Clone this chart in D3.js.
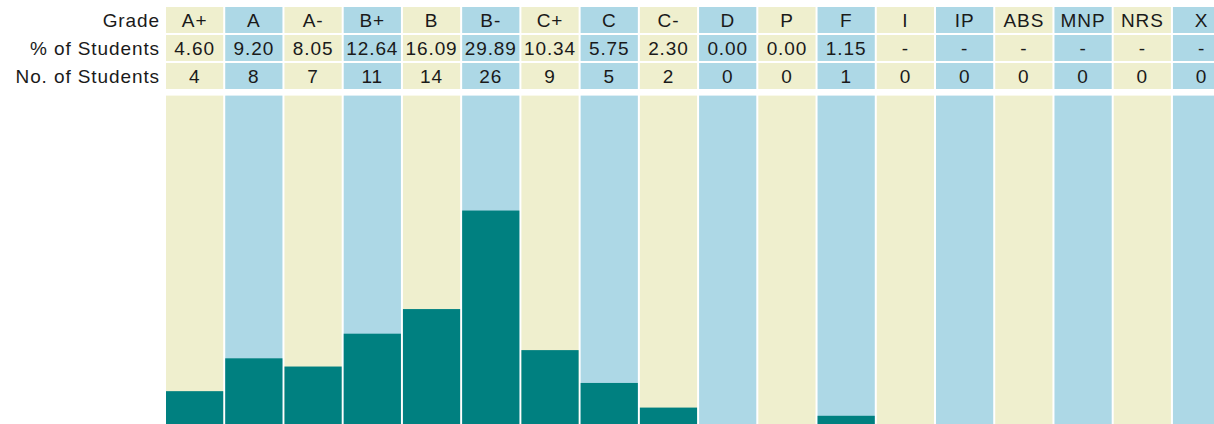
<!DOCTYPE html>
<html>
<head>
<meta charset="utf-8">
<script src="https://cdn.jsdelivr.net/npm/d3@7"></script>
<style>
  html, body { margin: 0; padding: 0; background: #fff; overflow: hidden; }
  text { font-family: "Liberation Sans", Arial, sans-serif; font-size: 19px; fill: #1a1a1a; letter-spacing: 0.9px; }
</style>
</head>
<body>
<div id="chart"></div>
<script>
// grade distribution data
var grades = ['A+', 'A', 'A-', 'B+', 'B', 'B-', 'C+', 'C', 'C-', 'D', 'P', 'F', 'I', 'IP', 'ABS', 'MNP', 'NRS', 'X'];
var percents = ['4.60', '9.20', '8.05', '12.64', '16.09', '29.89', '10.34', '5.75', '2.30', '0.00', '0.00', '1.15', '-', '-', '-', '-', '-', '-'];
var counts = [4, 8, 7, 11, 14, 26, 9, 5, 2, 0, 0, 1, 0, 0, 0, 0, 0, 0];
var rowLabels = ['Grade', '% of Students', 'No. of Students'];

var width = 1214,
    height = 424;

var beige = '#efefce',
    blue = '#add8e6',
    teal = '#008080';

var svg = d3.select('#chart')
            .append('svg')
            .attr('width', width)
            .attr('height', height);

var step = 59.12;
var xScale = d3.scaleBand()
               .domain(grades)
               .range([166, 166 + step * grades.length])
               .paddingInner(2 / step)
               .paddingOuter(0);

// table rows
var rowTop = [7, 35, 63],
    rowH = 26;
var rows = [grades, percents, counts];

rows.forEach(function(vals, r) {
  svg.append('text')
     .attr('x', 160)
     .attr('y', rowTop[r] + 20)
     .attr('text-anchor', 'end')
     .text(rowLabels[r]);

  var g = svg.append('g').attr('class', 'row' + r);
  g.selectAll('rect')
   .data(grades)
   .enter()
   .append('rect')
   .attr('x', function(d) { return xScale(d); })
   .attr('y', rowTop[r])
   .attr('width', xScale.bandwidth())
   .attr('height', rowH)
   .style('fill', function(d, i) { return i % 2 ? blue : beige; });

  g.selectAll('text')
   .data(vals)
   .enter()
   .append('text')
   .attr('x', function(d, i) { return xScale(grades[i]) + xScale.bandwidth() / 2; })
   .attr('y', rowTop[r] + 20)
   .attr('text-anchor', 'middle')
   .text(function(d) { return d; });
});

// bar area
var yScale = d3.scaleLinear()
               .domain([0, 40])
               .range([424, 95.6]);

svg.append('g')
   .selectAll('rect')
   .data(grades)
   .enter()
   .append('rect')
   .attr('x', function(d) { return xScale(d); })
   .attr('y', yScale(40))
   .attr('width', xScale.bandwidth())
   .attr('height', yScale(0) - yScale(40))
   .style('fill', function(d, i) { return i % 2 ? blue : beige; });

svg.append('g')
   .selectAll('rect')
   .data(counts)
   .enter()
   .append('rect')
   .attr('x', function(d, i) { return xScale(grades[i]); })
   .attr('y', function(d) { return yScale(d); })
   .attr('width', xScale.bandwidth())
   .attr('height', function(d) { return yScale(0) - yScale(d); })
   .style('fill', teal);
</script>
</body>
</html>
